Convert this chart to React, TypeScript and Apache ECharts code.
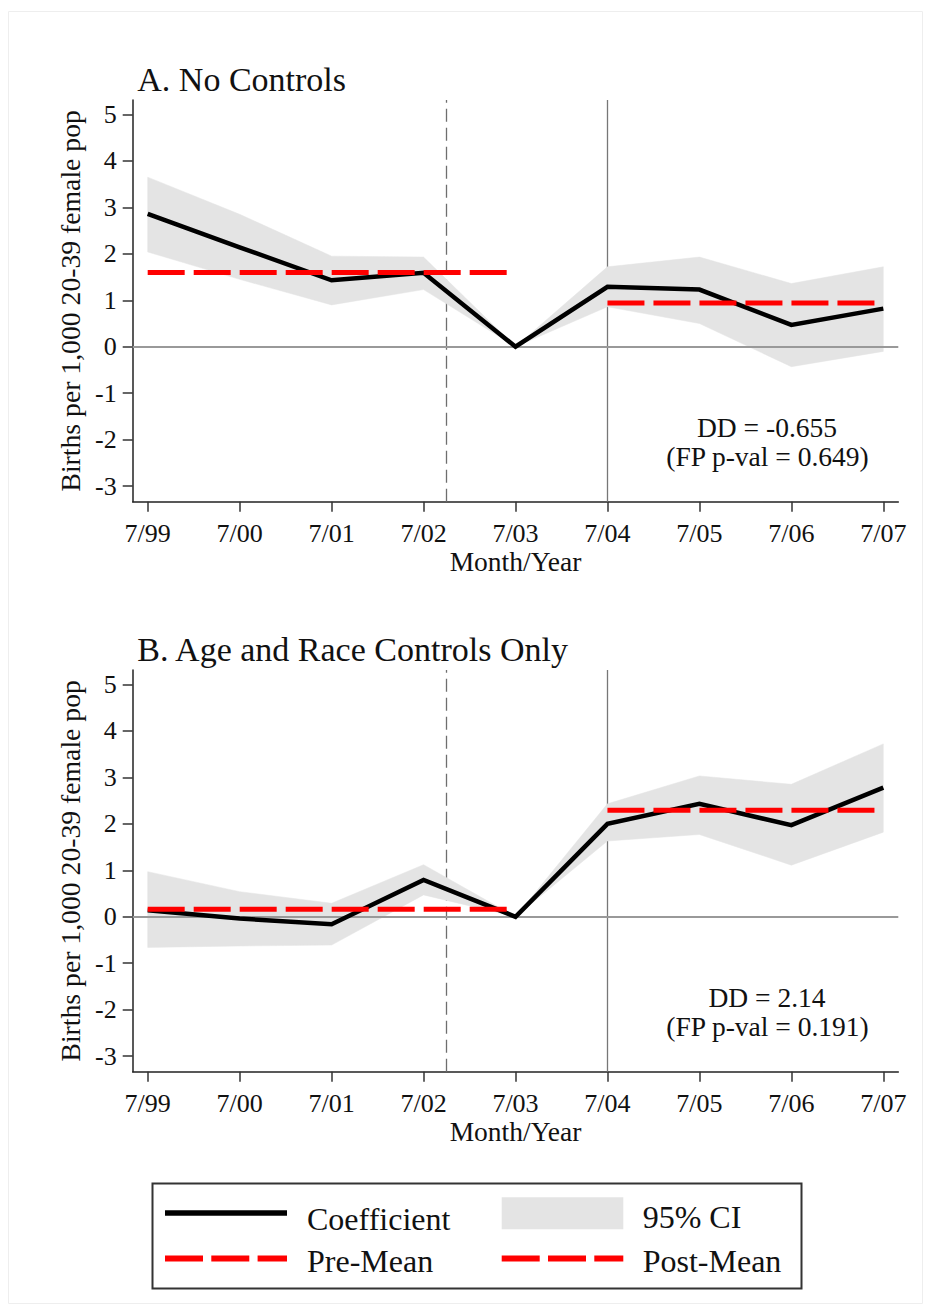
import React, { useEffect, useRef } from 'react';
import * as echarts from 'echarts';

// ---------- data ----------
const xLabels = ['7/99', '7/00', '7/01', '7/02', '7/03', '7/04', '7/05', '7/06', '7/07'];
const xTicks = [0, 1, 2, 3, 4, 5, 6, 7, 8];
const yTicks = [-3, -2, -1, 0, 1, 2, 3, 4, 5];

// Panel A: No Controls
const coefA = [2.86, 2.14, 1.43, 1.59, 0, 1.29, 1.23, 0.47, 0.82];
const ciLowA = [2.04, 1.45, 0.9, 1.23, 0, 0.86, 0.5, -0.43, -0.1];
const ciHighA = [3.65, 2.85, 1.95, 1.93, 0, 1.72, 1.93, 1.36, 1.72];
const preMeanA = 1.6;
const postMeanA = 0.94;

// Panel B: Age and Race Controls Only
const coefB = [0.14, -0.04, -0.16, 0.79, 0, 2.0, 2.43, 1.97, 2.78];
const ciLowB = [-0.66, -0.63, -0.61, 0.47, 0, 1.63, 1.77, 1.11, 1.82];
const ciHighB = [0.97, 0.54, 0.29, 1.12, 0, 2.43, 3.03, 2.85, 3.72];
const preMeanB = 0.16;
const postMeanB = 2.29;

const preRange = ['7/99', '7/03'];
const postRange = ['7/04', '7/07'];
const announceX = 3.25; // between 7/02 and 7/03
const treatLabel = '7/04';

const titles = ['A. No Controls', 'B. Age and Race Controls Only'];
const ddTexts = ['DD = -0.655', 'DD = 2.14'];
const pvalTexts = ['(FP p-val = 0.649)', '(FP p-val = 0.191)'];
const yName = 'Births per 1,000 20-39 female pop';
const xName = 'Month/Year';
const legendLabels = ['Coefficient', '95% CI', 'Pre-Mean', 'Post-Mean'];

// ---------- styling ----------
const FONT = '"Liberation Serif", "Times New Roman", Times, serif';
const TXT = '#111111';
const CI_COLOR = '#e4e4e4';
const RED = '#ff0000';
const DASH = [37, 9];

const PANEL_TOP = [100, 670];
const GRID_LEFT = 132.7;
const GRID_W = 765.6;
const GRID_H = 401.7;
const X_MIN = -0.163;
const X_MAX = 8.163;
const Y_MIN = -3.335;
const Y_MAX = 5.31;

function idx(label: string) {
  return xLabels.indexOf(label);
}

function buildSeries(p: number, coef: number[], lo: number[], hi: number[], pre: number, post: number) {
  return [
    {
      type: 'custom',
      name: 'ci' + p,
      xAxisIndex: p,
      yAxisIndex: p,
      data: xTicks.map((x, i) => [x, lo[i], hi[i]]),
      silent: true,
      z: 2,
      renderItem: (params: any, api: any) => {
        if (params.dataIndex !== 0) return null;
        const upper = xTicks.map((x, i) => api.coord([x, hi[i]]));
        const lower = xTicks.map((x, i) => api.coord([x, lo[i]])).reverse();
        return {
          type: 'polygon',
          shape: { points: upper.concat(lower) },
          style: { fill: CI_COLOR, stroke: CI_COLOR, lineWidth: 0.5 },
        };
      },
      markLine: {
        silent: true,
        symbol: 'none',
        z: 1,
        label: { show: false },
        emphasis: { disabled: true },
        data: [
          { xAxis: announceX, lineStyle: { color: '#6e6e6e', width: 1.3, type: [13, 6] } },
          { xAxis: idx(treatLabel), lineStyle: { color: '#777777', width: 1.3, type: 'solid' } },
        ],
      },
    },
    {
      type: 'line',
      name: 'coef' + p,
      xAxisIndex: p,
      yAxisIndex: p,
      data: coef.map((v, i) => [xTicks[i], v]),
      symbol: 'none',
      lineStyle: { color: '#000000', width: 4.5, join: 'miter' },
      silent: true,
      z: 4,
      markLine: {
        silent: true,
        symbol: 'none',
        z: 3,
        label: { show: false },
        emphasis: { disabled: true },
        data: [{ yAxis: 0, lineStyle: { color: '#999999', width: 2, type: 'solid' } }],
      },
    },
    {
      type: 'line',
      name: 'pre' + p,
      xAxisIndex: p,
      yAxisIndex: p,
      data: [
        [idx(preRange[0]), pre],
        [idx(preRange[1]), pre],
      ],
      symbol: 'none',
      lineStyle: { color: RED, width: 5, type: DASH, cap: 'butt' },
      silent: true,
      z: 5,
    },
    {
      type: 'line',
      name: 'post' + p,
      xAxisIndex: p,
      yAxisIndex: p,
      data: [
        [idx(postRange[0]), post],
        [idx(postRange[1]), post],
      ],
      symbol: 'none',
      lineStyle: { color: RED, width: 5, type: DASH, cap: 'butt' },
      silent: true,
      z: 5,
    },
  ];
}

function buildAxes(p: number) {
  const axisLine = { show: true, onZero: false, lineStyle: { color: '#222222', width: 1.5 } };
  const tick = { show: true, length: 10, lineStyle: { color: '#333333', width: 1.5 } };
  const xAxis = {
    gridIndex: p,
    type: 'value',
    min: X_MIN,
    max: X_MAX,
    axisLine,
    axisTick: { ...tick, customValues: xTicks },
    axisLabel: {
      customValues: xTicks,
      formatter: (v: number) => xLabels[Math.round(v)] ?? '',
      fontFamily: FONT,
      fontSize: 26,
      color: TXT,
      margin: 19,
    },
    splitLine: { show: false },
    name: xName,
    nameLocation: 'middle',
    nameGap: 42,
    nameTextStyle: { fontFamily: FONT, fontSize: 27.5, color: TXT },
  };
  const yAxis = {
    gridIndex: p,
    type: 'value',
    min: Y_MIN,
    max: Y_MAX,
    axisLine,
    axisTick: { ...tick, customValues: yTicks },
    axisLabel: {
      customValues: yTicks,
      formatter: (v: number) => String(v),
      fontFamily: FONT,
      fontSize: 26,
      color: TXT,
      margin: 16,
    },
    splitLine: { show: false },
    name: yName,
    nameLocation: 'middle',
    nameRotate: 90,
    nameGap: 46,
    nameTextStyle: { fontFamily: FONT, fontSize: 27.7, color: TXT },
  };
  return { xAxis, yAxis };
}

function textEl(text: string, x: number, y: number, size: number, align: string) {
  return {
    type: 'text',
    x,
    y,
    silent: true,
    style: {
      text,
      font: `${size}px ${FONT}`,
      fill: TXT,
      align,
      verticalAlign: 'middle',
    },
  };
}

function buildGraphics() {
  const g: any[] = [];
  g.push({
    type: 'rect',
    shape: { x: 8.5, y: 11.5, width: 914, height: 1292 },
    style: { fill: 'none', stroke: '#eeeeee', lineWidth: 1 },
    silent: true,
    z: -10,
  });
  // panel titles and annotations
  const titleY = [79.7, 649.7];
  const ddY = [427.5, 997.5];
  for (let p = 0; p < 2; p++) {
    g.push(textEl(titles[p], 137.3, titleY[p], 34, 'left'));
    g.push(textEl(ddTexts[p], 767, ddY[p], 27.5, 'center'));
    g.push(textEl(pvalTexts[p], 767.5, ddY[p] + 28.5, 27.5, 'center'));
  }
  // legend
  g.push({
    type: 'rect',
    shape: { x: 152.5, y: 1183.5, width: 649, height: 105 },
    style: { fill: '#ffffff', stroke: '#333333', lineWidth: 2 },
    silent: true,
  });
  g.push({
    type: 'line',
    shape: { x1: 165, y1: 1213, x2: 287, y2: 1213 },
    style: { stroke: '#000000', lineWidth: 5.5 },
    silent: true,
  });
  g.push({
    type: 'rect',
    shape: { x: 501.7, y: 1197.3, width: 121.6, height: 32 },
    style: { fill: CI_COLOR },
    silent: true,
  });
  g.push({
    type: 'line',
    shape: { x1: 165, y1: 1258.5, x2: 287, y2: 1258.5 },
    style: { stroke: RED, lineWidth: 6, lineDash: [38, 8.3] },
    silent: true,
  });
  g.push({
    type: 'line',
    shape: { x1: 501.7, y1: 1258.5, x2: 623.3, y2: 1258.5 },
    style: { stroke: RED, lineWidth: 6, lineDash: [38, 8.3] },
    silent: true,
  });
  g.push(textEl(legendLabels[0], 307, 1219, 32, 'left'));
  g.push(textEl(legendLabels[1], 642.7, 1217, 32, 'left'));
  g.push(textEl(legendLabels[2], 307, 1260.5, 32, 'left'));
  g.push(textEl(legendLabels[3], 642.7, 1260.5, 32, 'left'));
  return g;
}

export default function App() {
  const ref = useRef<HTMLDivElement>(null);
  useEffect(() => {
    if (!ref.current) return;
    const chart = echarts.init(ref.current, null, { renderer: 'svg' });
    const a0 = buildAxes(0);
    const a1 = buildAxes(1);
    chart.setOption({
      animation: false,
      backgroundColor: '#ffffff',
      grid: PANEL_TOP.map((top) => ({
        left: GRID_LEFT,
        top,
        width: GRID_W,
        height: GRID_H,
        containLabel: false,
      })),
      xAxis: [a0.xAxis, a1.xAxis],
      yAxis: [a0.yAxis, a1.yAxis],
      series: [
        ...buildSeries(0, coefA, ciLowA, ciHighA, preMeanA, postMeanA),
        ...buildSeries(1, coefB, ciLowB, ciHighB, preMeanB, postMeanB),
      ],
      graphic: buildGraphics(),
    } as any);
    return () => chart.dispose();
  }, []);
  return (
    <div
      ref={ref}
      style={{ position: 'absolute', left: 0, top: 0, width: 933, height: 1315, background: '#ffffff' }}
    />
  );
}
